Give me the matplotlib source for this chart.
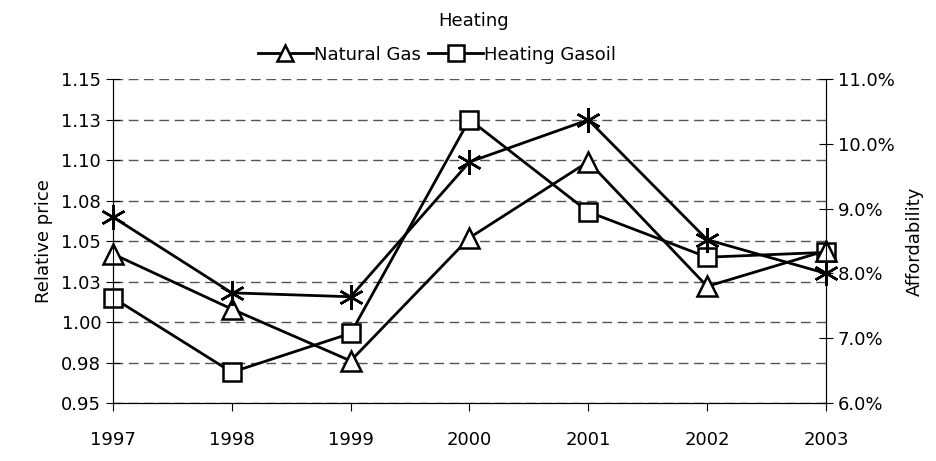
import matplotlib.pyplot as plt
from matplotlib.ticker import FixedLocator, FixedFormatter

years = [1997, 1998, 1999, 2000, 2001, 2002, 2003]
natural_gas = [1.042, 1.008, 0.976, 1.052, 1.099, 1.022, 1.044]
heating_gasoil = [1.015, 0.969, 0.993, 1.125, 1.068, 1.040, 1.043]
affordability = [8.87, 7.70, 7.64, 9.72, 10.37, 8.52, 8.00]  # percent, right axis

left_ticks = [0.95, 0.975, 1.0, 1.025, 1.05, 1.075, 1.10, 1.125, 1.15]
left_labels = ['0.95', '0.98', '1.00', '1.03', '1.05', '1.08', '1.10', '1.13', '1.15']
right_ticks = [6, 7, 8, 9, 10, 11]

plt.rcParams['font.family'] = ['DejaVu Sans']
fig = plt.figure(figsize=(9.36, 4.61), dpi=100)
ax = fig.add_axes([0.1207, 0.1258, 0.7618, 0.7028])

ax.plot(years, heating_gasoil, color='black', lw=2, marker='s', ms=13,
        mfc='white', mec='black', mew=1.8, label='Heating Gasoil', zorder=3,
        clip_on=False)
ax.plot(years, natural_gas, color='black', lw=2, marker='^', ms=14,
        mfc='white', mec='black', mew=1.8, label='Natural Gas', zorder=4,
        clip_on=False)

ax.set_xlim(1997, 2003)
ax.set_ylim(0.95, 1.15)
ax.yaxis.set_major_locator(FixedLocator(left_ticks))
ax.yaxis.set_major_formatter(FixedFormatter(left_labels))
ax.set_xticks(years)
ax.grid(axis='y', color='#555555', linestyle=(0, (7, 4)), lw=1)
ax.tick_params(axis='y', direction='inout', length=10, labelsize=13)
ax.tick_params(axis='x', direction='out', length=6, labelsize=13, pad=14)
ax.spines['top'].set_visible(False)
ax.set_ylabel('Relative price', fontsize=13, labelpad=6)

ax2 = ax.twinx()
ax2.plot(years, affordability, color='black', lw=2, marker=(6, 2, 0), ms=18,
         mew=1.8, zorder=3, clip_on=False)
ax2.set_ylim(6, 11)
ax2.set_yticks(right_ticks)
ax2.set_yticklabels(['%.1f%%' % t for t in right_ticks])
ax2.tick_params(axis='y', direction='inout', length=10, labelsize=13)
ax2.spines['top'].set_visible(False)
ax2.set_ylabel('Affordability', fontsize=13, labelpad=8)

handles, labels = ax.get_legend_handles_labels()
fig.text(0.506, 0.955, 'Heating', ha='center', va='center', fontsize=13)
ax.legend(handles[::-1], labels[::-1], loc='center', bbox_to_anchor=(0.455, 1.075),
          ncol=2, frameon=False, fontsize=13, handlelength=3, columnspacing=0.4,
          handletextpad=0.1, borderaxespad=0, markerscale=0.85)

fig.savefig('out.png', dpi=100)
